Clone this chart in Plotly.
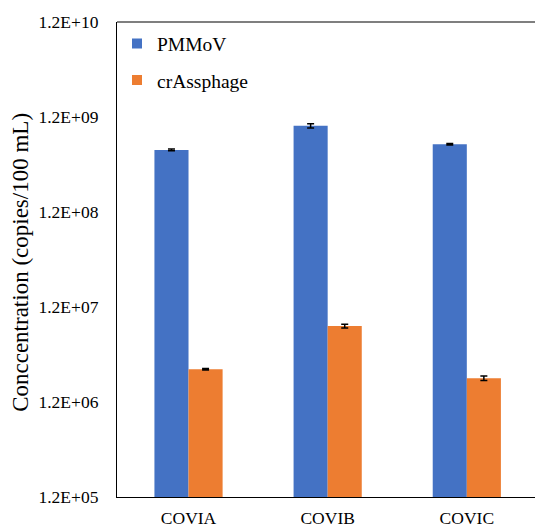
import math
import plotly.graph_objects as go

categories = ["COVIA", "COVIB", "COVIC"]
pmmov = [5.4e8, 9.7e8, 6.2e8]
pmmov_err = [1.2e7, 5.0e7, 1.2e7]
crass = [2.66e6, 7.55e6, 2.14e6]
crass_err = [5e4, 3.5e5, 1.2e5]
tick_vals = [1.2e5, 1.2e6, 1.2e7, 1.2e8, 1.2e9, 1.2e10]
tick_text = ["1.2E+05", "1.2E+06", "1.2E+07", "1.2E+08", "1.2E+09", "1.2E+10"]

BLUE = "#4472C4"
ORANGE = "#ED7D31"
FONT = "Liberation Serif, Times New Roman, serif"

fig = go.Figure()
err_style = dict(type="data", visible=True, color="black", thickness=1.5, width=3.5)
fig.add_trace(go.Bar(x=categories, y=pmmov, name="PMMoV", marker=dict(color=BLUE, line=dict(width=0)),
                     error_y=dict(array=pmmov_err, **err_style), showlegend=False))
fig.add_trace(go.Bar(x=categories, y=crass, name="crAssphage", marker=dict(color=ORANGE, line=dict(width=0)),
                     error_y=dict(array=crass_err, **err_style), showlegend=False))
# legend entries
fig.add_trace(go.Scatter(x=[None], y=[None], mode="markers", name="PMMoV", legendgroup="a",
                         marker=dict(symbol="square", size=10, color=BLUE)))
fig.add_trace(go.Scatter(x=[None], y=[None], mode="markers", name="crAssphage", legendgroup="b",
                         marker=dict(symbol="square", size=10, color=ORANGE)))

fig.update_layout(
    width=535, height=527,
    margin=dict(l=117, r=0, t=22, b=30),
    plot_bgcolor="white", paper_bgcolor="white",
    barmode="group", bargap=0.51, bargroupgap=0,
    font=dict(family=FONT, size=17.5, color="black"),
    legend=dict(x=0.0, y=0.995, xanchor="left", yanchor="top", bgcolor="rgba(0,0,0,0)",
                font=dict(family=FONT, size=19.5), tracegroupgap=8, traceorder="grouped"),
    xaxis=dict(type="category", range=[-0.514, 2.49], showline=True, linecolor="black", linewidth=1.2,
               ticks="", showgrid=False, tickfont=dict(family=FONT, size=17.5), ticklabelstandoff=5,
               automargin=False, zeroline=False),
    yaxis=dict(type="log", range=[math.log10(1.2e5), math.log10(1.2e10)], showline=True,
               linecolor="black", linewidth=1.2, ticks="", showgrid=False, zeroline=False,
               tickvals=tick_vals, ticktext=tick_text, tickfont=dict(family=FONT, size=17.5),
               ticklabelstandoff=14, automargin=False),
    shapes=[dict(type="line", xref="paper", yref="paper", x0=0, x1=1, y0=1, y1=1,
                 line=dict(color="black", width=1.2))],
    annotations=[dict(text="Conccentration (copies/100 mL)", textangle=-90, xref="paper", yref="paper",
                      x=-0.2297, y=0.495, xanchor="center", yanchor="middle", showarrow=False,
                      font=dict(family=FONT, size=23, color="black"))],
)
fig.write_html("out.html", config={"displayModeBar": False},
               post_script="document.body.style.margin='0';document.body.style.overflow='hidden';")
